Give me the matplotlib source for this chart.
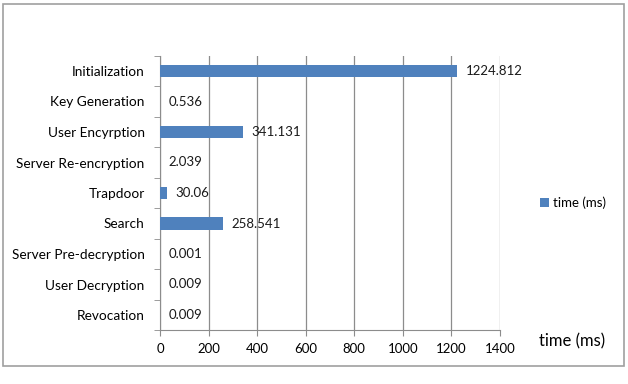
import matplotlib.pyplot as plt
import numpy as np
from matplotlib.patches import Rectangle

categories = ['Initialization', 'Key Generation', 'User Encyrption', 'Server Re-encryption',
              'Trapdoor', 'Search', 'Server Pre-decryption', 'User Decryption', 'Revocation']
times = [1224.812, 0.536, 341.131, 2.039, 30.06, 258.541, 0.001, 0.009, 0.009]
labels = ['1224.812', '0.536', '341.131', '2.039', '30.06', '258.541', '0.001', '0.009', '0.009']
xticks = [0, 200, 400, 600, 800, 1000, 1200, 1400]

plt.rcParams['font.family'] = ['Lato', 'DejaVu Sans']
grey = '#8c8c8c'
blue = '#4f81bd'

fig = plt.figure(figsize=(6.28, 3.84), dpi=100)
ax = fig.add_axes([160/628, 1 - 330.25/384, 340/628, 274.5/384])

y = np.arange(len(categories))
ax.barh(y, times, height=0.4, color=blue, label='time (ms)', zorder=3)
for yi, v, s in zip(y, times, labels):
    ax.annotate(s, (v, yi), xytext=(6, 0), textcoords='offset points',
                va='center', ha='left', fontsize=9.5, color='#1a1a1a', zorder=4)

ax.set_ylim(len(categories) - 0.5, -0.5)
ax.set_xlim(0, 1400)
ax.set_xticks(xticks)
ax.set_yticks(y)
ax.set_yticklabels(categories)
ax.set_yticks(np.arange(-0.5, len(categories)), minor=True)
ax.tick_params(axis='y', which='major', length=0, labelsize=9.8, pad=11)
ax.tick_params(axis='y', which='minor', length=4, color=grey, direction='out')
ax.tick_params(axis='x', length=4, color=grey, labelsize=9.5, pad=5)
ax.grid(axis='x', color=grey, linewidth=0.9, zorder=0)
for side in ['top', 'right']:
    ax.spines[side].set_visible(False)
for side in ['left', 'bottom']:
    ax.spines[side].set_color(grey)

fig.text(605/628, 1 - 341/384, 'time (ms)', ha='right', va='center', fontsize=12)
fig.legend(loc='center left', bbox_to_anchor=(528/628, 1 - 203/384), frameon=False,
           fontsize=9.5, handlelength=0.7, handleheight=0.7, handletextpad=0.3)

fig.patches.append(Rectangle((3/628, 1 - 366/384), 621/628, 362/384, transform=fig.transFigure,
                             fill=False, edgecolor='#a0a0a0', linewidth=1.2))

fig.savefig('out.png', dpi=100)
